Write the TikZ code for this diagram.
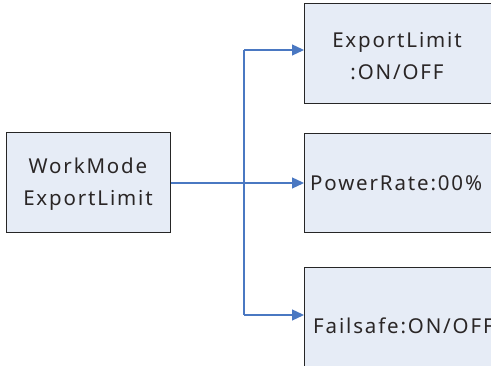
\documentclass[tikz,border=0pt]{standalone}
\usepackage{fontspec}
\setmainfont{Noto Sans}[LetterSpace=9]
\usetikzlibrary{arrows.meta}
\definecolor{boxfill}{HTML}{E6ECF6}
\definecolor{conn}{HTML}{4A78C2}
\definecolor{txt}{HTML}{2A2626}
\begin{document}
\begin{tikzpicture}[x=1pt,y=1pt,
  box/.style={draw=black!85,line width=1pt,fill=boxfill,inner sep=0pt,anchor=south west},
  lbl/.style={text=txt,font=\fontsize{20.5}{32}\selectfont,inner sep=0pt},
  connline/.style={draw=conn,line width=1.3pt},
  arr/.style={connline,-{Triangle[length=12pt,width=11pt]}}]
\clip (0,0) rectangle (491,366);
\useasboundingbox (0,0) rectangle (491,366);
% boxes
\node[box,minimum width=164pt,minimum height=100pt] (left) at (6,133) {};
\node[box,minimum width=230pt,minimum height=100pt] (top) at (304,262) {};
\node[box,minimum width=230pt,minimum height=99pt] (mid) at (304,133) {};
\node[box,minimum width=230pt,minimum height=100pt] (bot) at (304,-2) {};
% labels
\node[lbl,align=center] (leftlbl) at (88,182) {WorkMode\\ExportLimit};
\node[lbl,align=center] (toplbl) at (397,310) {ExportLimit\\:ON/OFF};
\node[lbl,anchor=west] (midlbl) at (310,183) {PowerRate:00\%};
\node[lbl,anchor=west] (botlbl) at (313,40) {Failsafe:ON/OFF};
% connectors
\coordinate (j) at (244,183);
\coordinate (jt) at (244,316);
\coordinate (jb) at (244,51);
\draw[connline] (left.east |- j) -- (j);
\draw[connline] (jt) -- (jb);
\draw[arr] (j) -- (j -| mid.west);
\draw[arr] (jt) -- (jt -| top.west);
\draw[arr] (jb) -- (jb -| bot.west);
\end{tikzpicture}
\end{document}
